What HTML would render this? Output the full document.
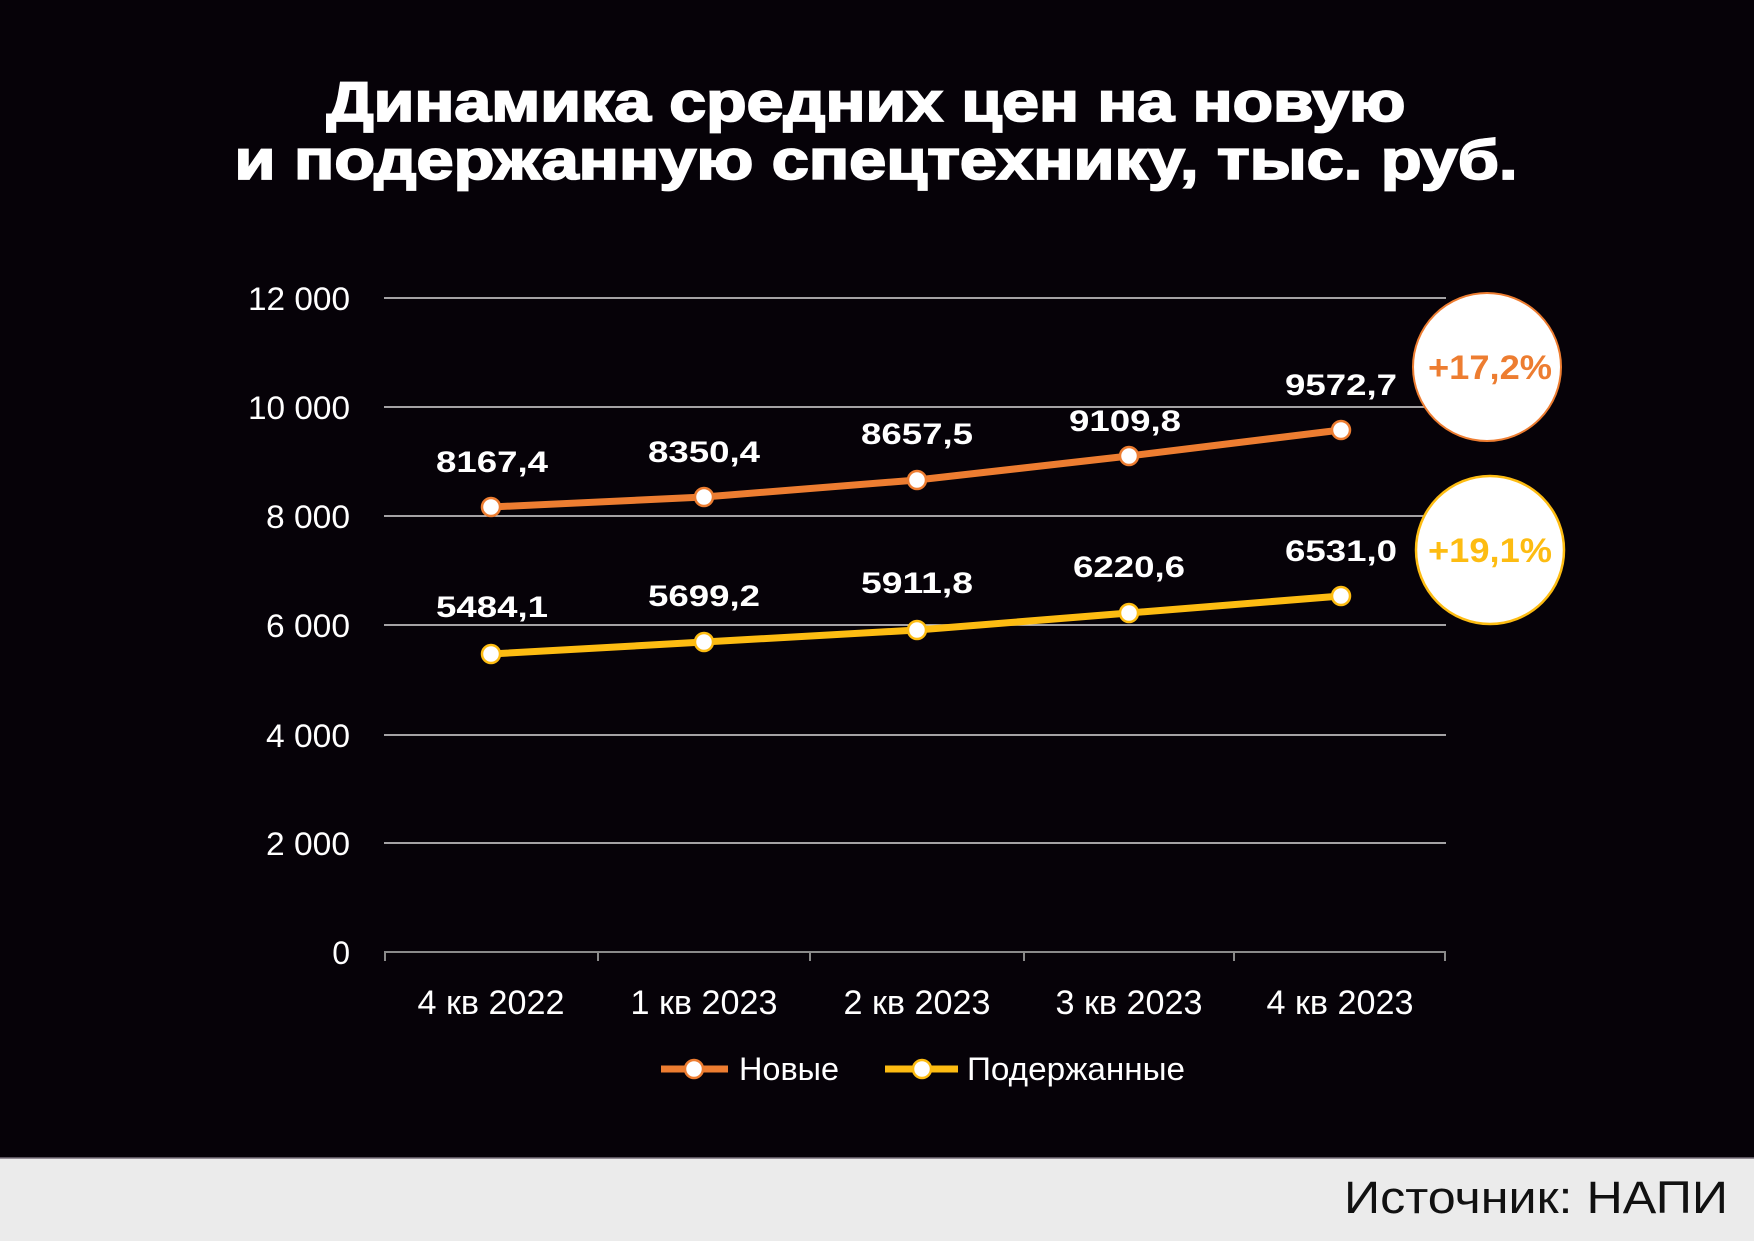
<!DOCTYPE html>
<html><head><meta charset="utf-8"><style>
html,body{margin:0;padding:0;width:1754px;height:1241px;overflow:hidden;background:#060208}
svg{display:block}
</style></head><body>
<svg width="1754" height="1241" viewBox="0 0 1754 1241" xmlns="http://www.w3.org/2000/svg" font-family="Liberation Sans, sans-serif">
<rect width="1754" height="1241" fill="#060208"/>
<text x="866" y="121" fill="#fff" stroke="#fff" stroke-width="1.8" font-size="56" font-weight="bold" text-anchor="middle" textLength="1079" lengthAdjust="spacingAndGlyphs">Динамика средних цен на новую</text>
<text x="876" y="179" fill="#fff" stroke="#fff" stroke-width="1.8" font-size="56" font-weight="bold" text-anchor="middle" textLength="1283" lengthAdjust="spacingAndGlyphs">и подержанную спецтехнику, тыс. руб.</text>
<g stroke="#d8d8d8" stroke-width="1.5">
<line x1="384" y1="298" x2="1446" y2="298"/><line x1="384" y1="407" x2="1446" y2="407"/><line x1="384" y1="516" x2="1446" y2="516"/><line x1="384" y1="625" x2="1446" y2="625"/><line x1="384" y1="735" x2="1446" y2="735"/><line x1="384" y1="843" x2="1446" y2="843"/>
</g>
<g stroke="#8a8a8a" stroke-width="2">
<line x1="384" y1="952" x2="1446" y2="952"/>
<line x1="385" y1="952" x2="385" y2="961"/><line x1="598" y1="952" x2="598" y2="961"/><line x1="810" y1="952" x2="810" y2="961"/><line x1="1024" y1="952" x2="1024" y2="961"/><line x1="1234" y1="952" x2="1234" y2="961"/><line x1="1445" y1="952" x2="1445" y2="961"/>
</g>
<g fill="#fff" font-size="32" text-anchor="end">
<text x="350" y="310" textLength="102" lengthAdjust="spacingAndGlyphs">12 000</text>
<text x="350" y="419" textLength="102" lengthAdjust="spacingAndGlyphs">10 000</text>
<text x="350" y="528" textLength="84" lengthAdjust="spacingAndGlyphs">8 000</text>
<text x="350" y="637" textLength="84" lengthAdjust="spacingAndGlyphs">6 000</text>
<text x="350" y="747" textLength="84" lengthAdjust="spacingAndGlyphs">4 000</text>
<text x="350" y="855" textLength="84" lengthAdjust="spacingAndGlyphs">2 000</text>
<text x="350" y="964">0</text>
</g>
<g fill="#fff" font-size="34" text-anchor="middle">
<text x="491" y="1014" textLength="147" lengthAdjust="spacingAndGlyphs">4 кв 2022</text>
<text x="704" y="1014" textLength="147" lengthAdjust="spacingAndGlyphs">1 кв 2023</text>
<text x="917" y="1014" textLength="147" lengthAdjust="spacingAndGlyphs">2 кв 2023</text>
<text x="1129" y="1014" textLength="147" lengthAdjust="spacingAndGlyphs">3 кв 2023</text>
<text x="1340" y="1014" textLength="147" lengthAdjust="spacingAndGlyphs">4 кв 2023</text>
</g>
<polyline points="491,507 704,497 917,480 1129,456 1341,430" fill="none" stroke="#ed7d31" stroke-width="7" stroke-linejoin="round"/>
<polyline points="491,654 704,642 917,630 1129,613 1341,596" fill="none" stroke="#fdbc12" stroke-width="7" stroke-linejoin="round"/>
<g fill="#fff" stroke="#ed7d31" stroke-width="2.5">
<circle cx="491" cy="507" r="9"/><circle cx="704" cy="497" r="9"/><circle cx="917" cy="480" r="9"/><circle cx="1129" cy="456" r="9"/><circle cx="1341" cy="430" r="9"/>
</g>
<g fill="#fff" stroke="#fdbc12" stroke-width="2.5">
<circle cx="491" cy="654" r="9"/><circle cx="704" cy="642" r="9"/><circle cx="917" cy="630" r="9"/><circle cx="1129" cy="613" r="9"/><circle cx="1341" cy="596" r="9"/>
</g>
<g fill="#fff" font-size="30" font-weight="bold" text-anchor="middle">
<text x="492" y="472" textLength="112" lengthAdjust="spacingAndGlyphs">8167,4</text>
<text x="704" y="462" textLength="112" lengthAdjust="spacingAndGlyphs">8350,4</text>
<text x="917" y="444" textLength="112" lengthAdjust="spacingAndGlyphs">8657,5</text>
<text x="1125" y="431" textLength="112" lengthAdjust="spacingAndGlyphs">9109,8</text>
<text x="1341" y="395" textLength="112" lengthAdjust="spacingAndGlyphs">9572,7</text>
<text x="492" y="617" textLength="112" lengthAdjust="spacingAndGlyphs">5484,1</text>
<text x="704" y="606" textLength="112" lengthAdjust="spacingAndGlyphs">5699,2</text>
<text x="917" y="593" textLength="112" lengthAdjust="spacingAndGlyphs">5911,8</text>
<text x="1129" y="577" textLength="112" lengthAdjust="spacingAndGlyphs">6220,6</text>
<text x="1341" y="561" textLength="112" lengthAdjust="spacingAndGlyphs">6531,0</text>
</g>
<circle cx="1487" cy="367" r="74" fill="#fff" stroke="#ed7d31" stroke-width="2"/>
<text x="1490" y="379" fill="#ed7d31" font-size="34" font-weight="bold" text-anchor="middle" textLength="124" lengthAdjust="spacingAndGlyphs">+17,2%</text>
<circle cx="1490" cy="550" r="74" fill="#fff" stroke="#fdbc12" stroke-width="2.5"/>
<text x="1490" y="562" fill="#fdbc12" font-size="34" font-weight="bold" text-anchor="middle" textLength="124" lengthAdjust="spacingAndGlyphs">+19,1%</text>
<line x1="661" y1="1069" x2="728" y2="1069" stroke="#ed7d31" stroke-width="7"/>
<circle cx="694" cy="1069" r="9" fill="#fff" stroke="#ed7d31" stroke-width="2.5"/>
<text x="739" y="1080" fill="#fff" font-size="32" textLength="100" lengthAdjust="spacingAndGlyphs">Новые</text>
<line x1="885" y1="1069" x2="958" y2="1069" stroke="#fdbc12" stroke-width="7"/>
<circle cx="922" cy="1069" r="9" fill="#fff" stroke="#fdbc12" stroke-width="2.5"/>
<text x="967" y="1080" fill="#fff" font-size="32" textLength="218" lengthAdjust="spacingAndGlyphs">Подержанные</text>
<rect x="0" y="1158" width="1754" height="83" fill="#ebebeb"/>
<line x1="0" y1="1158" x2="1754" y2="1158" stroke="#77707a" stroke-width="1.5"/>
<text x="1728" y="1213" fill="#111" font-size="45" text-anchor="end" textLength="384" lengthAdjust="spacingAndGlyphs">Источник: НАПИ</text>
</svg>
</body></html>
